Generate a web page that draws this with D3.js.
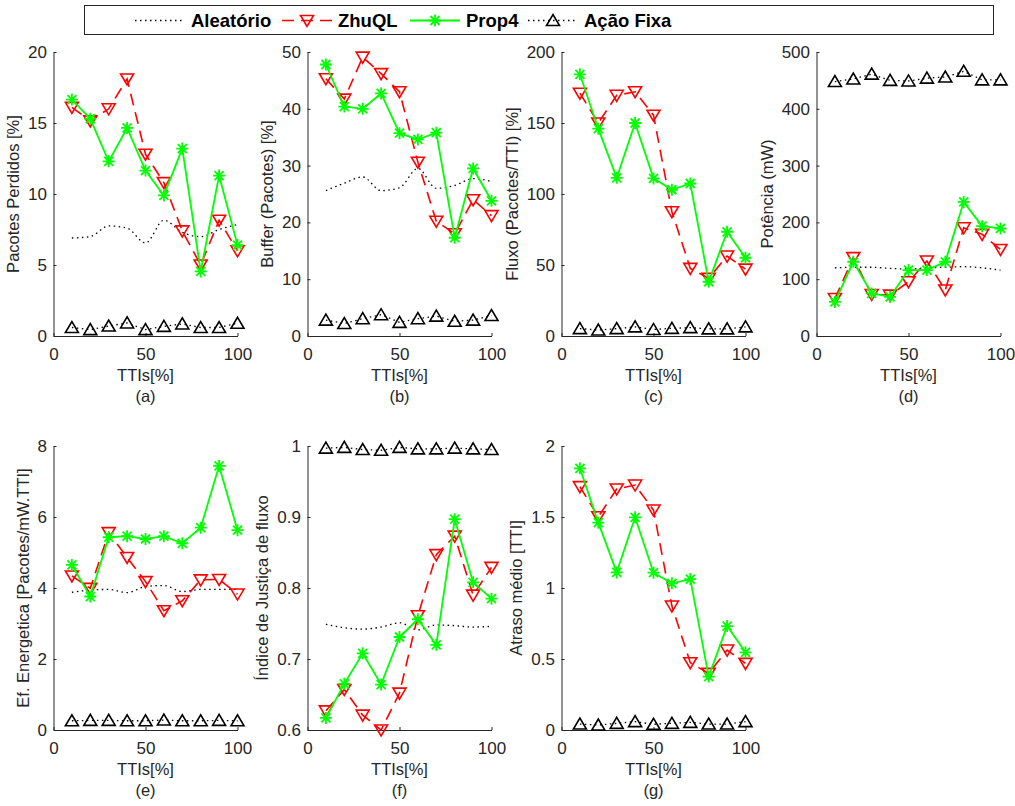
<!DOCTYPE html>
<html>
<head>
<meta charset="utf-8">
<script src="https://cdn.jsdelivr.net/npm/d3@7"></script>
<style>
  body { margin: 0; background: #fff; }
  svg { font-family: "Liberation Sans", Arial, Helvetica, sans-serif; }
</style>
</head>
<body>
<svg id="chart" width="1015" height="806"></svg>
<script>
// x values shared by every panel
var ttis = [10, 20, 30, 40, 50, 60, 70, 80, 90, 100];
var xTicks = [0, 50, 100];

// (a) Pacotes Perdidos [%]
var perdidosAleatorio = [6.9, 7.0, 7.75, 7.6, 6.55, 8.15, 7.3, 7.0, 7.5, 7.85];
var perdidosZhu = [16.1, 15.15, 16.0, 18.1, 12.8, 10.8, 7.4, 5.0, 8.15, 6.0];
var perdidosProp = [16.65, 15.3, 12.3, 14.65, 11.65, 9.9, 13.2, 4.55, 11.3, 6.4];
var perdidosFixa = [0.6, 0.45, 0.7, 0.92, 0.45, 0.68, 0.85, 0.6, 0.6, 0.9];

// (b) Buffer (Pacotes) [%]
var bufferAleatorio = [25.6, 26.9, 28.0, 25.6, 26.1, 29.5, 26.0, 26.5, 27.7, 27.2];
var bufferZhu = [45.3, 41.7, 49.1, 46.2, 43.0, 30.6, 20.2, 18.0, 24.0, 21.2];
var bufferProp = [47.8, 40.4, 40.0, 42.7, 35.7, 34.6, 35.8, 17.3, 29.5, 23.8];
var bufferFixa = [2.8, 2.2, 3.05, 3.75, 2.4, 3.05, 3.5, 2.6, 2.8, 3.6];

// (c) Fluxo (Pacotes/TTI) [%]
var fluxoZhu = [171, 150, 169.5, 172, 155.5, 87.5, 47.6, 40.6, 56.3, 47.1];
var fluxoProp = [184.3, 146, 111.4, 150, 111, 103, 107.4, 38.2, 73.4, 55.1];
var fluxoFixa = [5.2, 4.2, 5.2, 6.4, 4.6, 5.4, 5.9, 5.0, 5.0, 6.4];

// (d) Potência (mW)
var potenciaAleatorio = [120, 121, 121, 119, 118, 120, 121, 122, 120, 116];
var potenciaZhu = [66, 138, 73, 72, 95.5, 132, 81, 190.5, 179, 152.4];
var potenciaProp = [60, 130.7, 75, 69, 116, 116, 130.7, 236, 193.4, 189.3];
var potenciaFixa = [448, 452.5, 461, 450, 449, 454, 456, 466, 451, 451];

// (e) Ef. Energetica [Pacotes/mW.TTI]
var eficienciaAleatorio = [3.88, 3.94, 3.96, 3.87, 4.04, 4.07, 3.9, 3.96, 3.96, 3.96];
var eficienciaZhu = [4.34, 3.99, 5.56, 4.86, 4.18, 3.36, 3.64, 4.23, 4.24, 3.83];
var eficienciaProp = [4.65, 3.76, 5.43, 5.46, 5.38, 5.46, 5.26, 5.7, 7.44, 5.63];
var eficienciaFixa = [0.26, 0.27, 0.27, 0.26, 0.26, 0.28, 0.26, 0.26, 0.27, 0.26];

// (f) Índice de Justiça de fluxo
var justicaAleatorio = [0.749, 0.744, 0.742, 0.745, 0.751, 0.741, 0.748, 0.747, 0.745, 0.746];
var justicaZhu = [0.627, 0.657, 0.621, 0.6, 0.652, 0.761, 0.847, 0.873, 0.79, 0.829];
var justicaProp = [0.617, 0.665, 0.708, 0.664, 0.731, 0.756, 0.72, 0.897, 0.808, 0.785];
var justicaFixa = [0.997, 0.998, 0.995, 0.994, 0.998, 0.996, 0.996, 0.997, 0.996, 0.995];

// (g) Atraso médio [TTI]
var atrasoZhu = [1.714, 1.502, 1.697, 1.725, 1.549, 0.873, 0.474, 0.399, 0.563, 0.469];
var atrasoProp = [1.843, 1.46, 1.11, 1.498, 1.108, 1.033, 1.063, 0.376, 0.732, 0.547];
var atrasoFixa = [0.042, 0.035, 0.047, 0.059, 0.04, 0.047, 0.054, 0.042, 0.042, 0.059];

var seriesNames = ["Aleatório", "ZhuQL", "Prop4", "Ação Fixa"];

var panels = [
  { letter: "(a)", label: "Pacotes Perdidos [%]", domain: [0, 20], ticks: [0, 5, 10, 15, 20],
    data: [perdidosAleatorio, perdidosZhu, perdidosProp, perdidosFixa] },
  { letter: "(b)", label: "Buffer (Pacotes) [%]", domain: [0, 50], ticks: [0, 10, 20, 30, 40, 50],
    data: [bufferAleatorio, bufferZhu, bufferProp, bufferFixa] },
  { letter: "(c)", label: "Fluxo (Pacotes/TTI) [%]", domain: [0, 200], ticks: [0, 50, 100, 150, 200],
    data: [null, fluxoZhu, fluxoProp, fluxoFixa] },
  { letter: "(d)", label: "Potência (mW)", domain: [0, 500], ticks: [0, 100, 200, 300, 400, 500],
    data: [potenciaAleatorio, potenciaZhu, potenciaProp, potenciaFixa] },
  { letter: "(e)", label: "Ef. Energetica [Pacotes/mW.TTI]", domain: [0, 8], ticks: [0, 2, 4, 6, 8],
    data: [eficienciaAleatorio, eficienciaZhu, eficienciaProp, eficienciaFixa] },
  { letter: "(f)", label: "Índice de Justiça de fluxo", domain: [0.6, 1], ticks: [0.6, 0.7, 0.8, 0.9, 1],
    data: [justicaAleatorio, justicaZhu, justicaProp, justicaFixa] },
  { letter: "(g)", label: "Atraso médio [TTI]", domain: [0, 2], ticks: [0, 0.5, 1, 1.5, 2],
    data: [null, atrasoZhu, atrasoProp, atrasoFixa] }
];

var svg = d3.select("#chart");
var axisColor = "#262626";
var colLeft = [53.5, 307.5, 561.5, 816.5];
var rowTop = [52, 446];
var plotW = 184, plotH = 284;

// line style per series: colour, dash, width, marker
var styles = [
  { color: "#000", dash: "1.5,3.5", width: 1.3, marker: null },
  { color: "#ff0000", dash: "12,7", width: 1.6, marker: "down" },
  { color: "#00ff00", dash: null, width: 1.8, marker: "star" },
  { color: "#000", dash: "1.5,3.5", width: 1.3, marker: "up" }
];

function drawMarker(sel, kind, color) {
  if (kind === "down") {
    sel.append("path").attr("d", "M-6.5,-5L6.5,-5L0,6Z")
      .attr("fill", "none").attr("stroke", color).attr("stroke-width", 1.6);
  } else if (kind === "up") {
    sel.append("path").attr("d", "M-6.5,5L6.5,5L0,-6Z")
      .attr("fill", "none").attr("stroke", color).attr("stroke-width", 1.6);
  } else if (kind === "star") {
    sel.append("path").attr("d", "M-6,0L6,0M0,-6L0,6M-4.5,-4.5L4.5,4.5M-4.5,4.5L4.5,-4.5")
      .attr("fill", "none").attr("stroke", color).attr("stroke-width", 1.8);
  }
}

panels.forEach(function(p, k) {
  var left = colLeft[k % 4], top = rowTop[Math.floor(k / 4)];
  var x = d3.scaleLinear().domain([0, 100]).range([left, left + plotW]);
  var y = d3.scaleLinear().domain(p.domain).range([top + plotH, top]);
  var g = svg.append("g");

  var yAxis = g.append("g").attr("transform", "translate(" + left + ",0)")
    .call(d3.axisLeft(y).tickValues(p.ticks).tickSizeInner(-3).tickSizeOuter(0).tickPadding(6.5)
      .tickFormat(d3.format("~g")));
  var xAxis = g.append("g").attr("transform", "translate(0," + (top + plotH) + ")")
    .call(d3.axisBottom(x).tickValues(xTicks).tickSizeInner(-3).tickSizeOuter(0).tickPadding(12));
  [yAxis, xAxis].forEach(function(a) {
    a.select(".domain").attr("stroke", axisColor);
    a.selectAll(".tick line").attr("stroke", axisColor);
    a.selectAll(".tick text").attr("fill", axisColor).attr("font-size", "17px")
      .attr("font-family", "Liberation Sans, Arial, sans-serif");
  });

  // lowest tick label left edge, to place the y label
  var minX = Infinity;
  yAxis.selectAll(".tick text").each(function() {
    var b = this.getBBox();
    var m = this.getCTM();
    minX = Math.min(minX, b.x + m.e);
  });

  g.append("text")
    .attr("transform", "translate(" + (minX - 9) + "," + (top + plotH / 2) + ") rotate(-90)")
    .attr("text-anchor", "middle").attr("fill", axisColor).attr("font-size", "16.5px")
    .text(p.label);
  g.append("text").attr("x", left + plotW / 2).attr("y", top + plotH + 45)
    .attr("text-anchor", "middle").attr("fill", axisColor).attr("font-size", "16.5px")
    .text("TTIs[%]");
  g.append("text").attr("x", left + plotW / 2).attr("y", top + plotH + 66)
    .attr("text-anchor", "middle").attr("fill", axisColor).attr("font-size", "16.5px")
    .text(p.letter);

  p.data.forEach(function(vals, s) {
    if (!vals) return;
    var st = styles[s];
    var pts = ttis.map(function(t, i) { return [x(t), y(vals[i])]; });
    var line = d3.line().curve(s === 0 ? d3.curveMonotoneX : d3.curveLinear);
    g.append("path").attr("d", line(pts))
      .attr("fill", "none").attr("stroke", st.color)
      .attr("stroke-width", st.width)
      .attr("stroke-dasharray", st.dash);
    if (st.marker) {
      pts.forEach(function(pt) {
        var m = g.append("g").attr("transform", "translate(" + pt[0] + "," + pt[1] + ")");
        drawMarker(m, st.marker, st.color);
      });
    }
  });
});

// legend
var legend = svg.append("g");
legend.append("rect").attr("x", 84.5).attr("y", 5.5).attr("width", 909).attr("height", 29)
  .attr("fill", "#fff").attr("stroke", axisColor).attr("stroke-width", 1);
var legendLineX = [135, 282, 410, 528];
seriesNames.forEach(function(name, s) {
  var st = styles[s];
  var lx = legendLineX[s], cy = 20.5;
  legend.append("line").attr("x1", lx).attr("x2", lx + 50).attr("y1", cy).attr("y2", cy)
    .attr("stroke", st.color).attr("stroke-width", st.width).attr("stroke-dasharray", st.dash);
  if (st.marker) {
    var m = legend.append("g").attr("transform", "translate(" + (lx + 25) + "," + cy + ")");
    drawMarker(m, st.marker, st.color);
  }
  legend.append("text").attr("x", lx + 56).attr("y", cy + 6.5)
    .attr("font-size", "18.5px").attr("font-weight", "bold").attr("fill", "#000")
    .text(name);
});
</script>
</body>
</html>
